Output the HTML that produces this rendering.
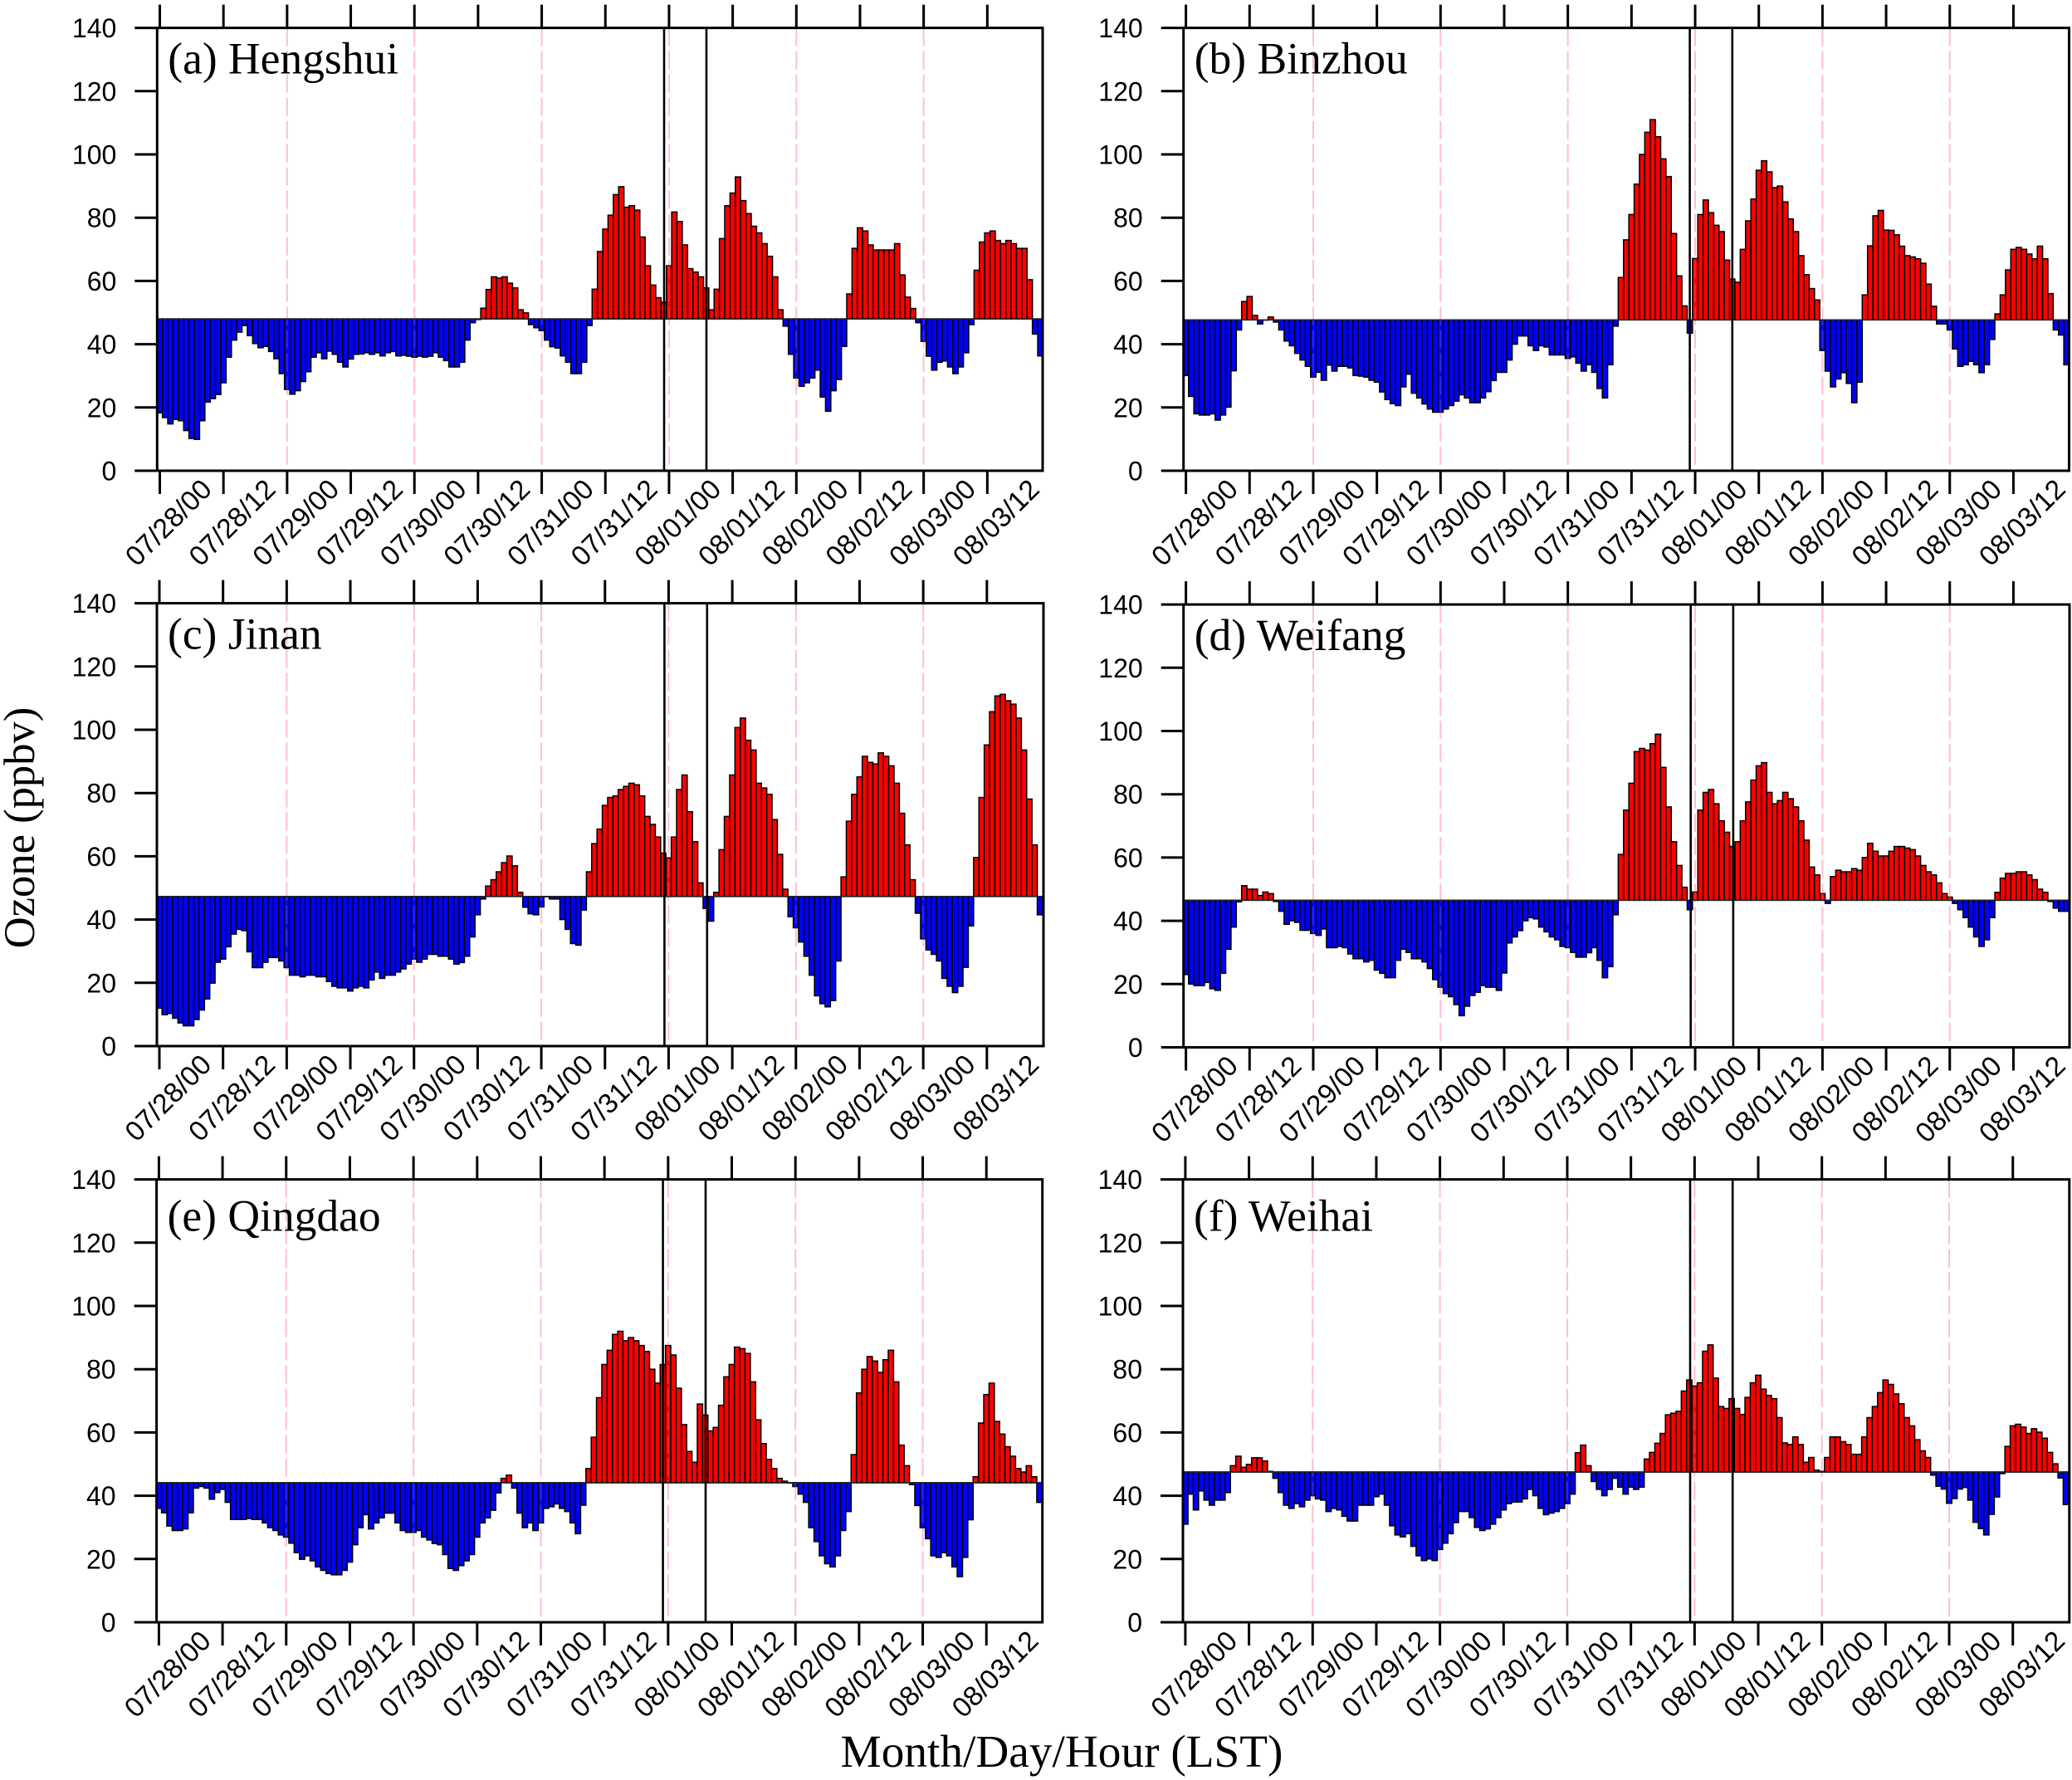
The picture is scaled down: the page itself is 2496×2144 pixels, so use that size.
<!DOCTYPE html>
<html lang="en">
<head>
<meta charset="utf-8">
<title>Ozone time series at six cities</title>
<style>
html,body{margin:0;padding:0;background:#fff;}
svg{display:block;position:absolute;left:0;top:0;}
.tick{font-family:"Liberation Sans",sans-serif;fill:#000;}
.title{font-family:"Liberation Serif",serif;fill:#000;}
</style>
</head>
<body>
<svg id="figure" xmlns="http://www.w3.org/2000/svg" width="2496" height="2144" viewBox="0 0 2496 2144">
<rect x="0" y="0" width="2496" height="2144" fill="#fff"/>
<text class="title" font-size="52.6" text-anchor="middle" transform="translate(41 997) rotate(-90)">Ozone (ppbv)</text>
<text class="title" font-size="55.3" text-anchor="middle" x="1279" y="2128">Month/Day/Hour (LST)</text>
</svg>
<script>
const tickLabels = ["07/28/00","07/28/12","07/29/00","07/29/12","07/30/00","07/30/12","07/31/00","07/31/12","08/01/00","08/01/12","08/02/00","08/02/12","08/03/00","08/03/12"];
const tickHours = [0,12,24,36,48,60,72,84,96,108,120,132,144,156];
const dayHours = [24,48,72,96,120,144];
const eventHours = [95,103];
const yTicks = [0,20,40,60,80,100,120,140];

const hengshuiValues = [18.3,16.8,14.8,16.2,15.8,12.7,10.2,9.9,15.8,21.7,22.8,24.1,27.8,35.9,41.3,43.8,45.9,42.7,40.2,38.9,39.3,37.7,35.4,30.7,25.7,24.2,25.3,28.2,31.3,35.9,37.3,35.4,37.8,36.8,34.3,32.8,35.3,36.8,36.9,37.3,36.8,37.3,36.3,37.3,37.7,36.3,36.5,36.2,35.9,36.2,35.9,36.2,37.3,35.9,34.8,32.8,32.8,34.3,41.3,46.8,47.8,
51.4,57.3,61.3,60.9,61.3,59.3,57.8,50.9,49.9,46.2,45.2,44.3,41.3,39.2,38.8,36.3,34.3,30.7,30.7,34.3,45.9,
57.4,69.3,76.4,80.8,87.3,89.8,83.3,83.8,82.4,73.9,64.8,58.7,54.7,53.3,64.8,81.8,78.8,71.4,63.9,62.8,61.3,57.8,50.9,57.4,73.4,83.8,87.8,92.9,85.4,81.3,77.3,75.2,71.8,67.8,61.3,50.9,45.7,36.8,29.3,26.7,27.8,29.3,31.8,23.3,18.8,25.3,28.8,39.3,55.9,70.3,76.8,75.8,71.4,69.8,69.8,69.8,69.8,71.8,61.9,54.9,51.3,46.8,40.9,36.2,31.8,34.3,34.7,32.8,30.7,32.8,37.3,46.2,63.4,72.3,75.2,75.8,72.8,71.8,72.8,71.8,70.3,70.3,60.4,43.2,36.3];

const binzhouValues = [30.1,23.5,18,17.6,17.6,18,16,17.6,20.1,31.6,44.5,53.5,55.1,49.1,46.4,47.6,48.6,47,44.5,41,39.5,37.1,35,33,29.6,31.1,28.6,33.4,31.5,33,33,32.5,30.1,29.9,29.6,28.6,28,24.9,22.5,21.2,20.6,26.5,30.5,24.5,23,21.1,19.5,18.5,18.5,19.5,20.6,22,24,23,21.5,21.5,23,25,28.5,31.1,31.1,35,40,42.6,42.6,39.5,38,39.5,39.1,36.6,36.6,36.6,35.5,36,34,31.5,33.5,31.1,26,23,33.5,45.7,
61.1,73,81,90.6,100,107,111,105.6,98.6,93,75,61.6,52.1,43.5,67.1,81,85.6,81.6,77.6,75.6,66.6,60.6,59.6,70,79,85.9,95,98,94.5,89.5,90,85,79.6,75.6,68,62,57.6,54,38,31.5,26.5,29,31,27.6,21.5,28,55.6,71.1,80.6,82.3,76.1,76,74.6,71,68,67.6,67,65.6,59,52,46.4,46.4,44.5,38.5,33,33.5,34.6,33.5,31,33.5,41.5,49.6,55.6,63.5,70,70.6,70,68.5,67,71,67,56,44.5,42.9,33.5];

const jinanValues = [12,9.9,10.3,8.8,7.3,6.4,6.4,8.4,11.4,14.9,19.9,26.5,27.5,31.4,35.4,36.9,36.5,29.8,24.8,24.8,26.5,28,28,26.9,24.8,22.4,22.4,21.9,22.4,22.4,21.9,21.9,20.4,18.9,18.4,18.4,17.4,18.4,18.9,18.4,20.9,23.4,21.4,22.4,22.4,23.4,24.4,25.9,27.5,26.5,27.5,29,29,28.4,28.4,27.5,25.9,26.4,28.4,34.5,41.5,46.5,50.6,52.6,55.1,58,60.1,57,48.6,43.9,41.8,41.5,44,47.2,46.5,46.5,40,36.9,32.4,31.9,
43,55.1,64,68.6,76.1,78.6,79.1,81.1,82.1,83.1,82.6,79.1,72.6,70.1,66.1,61,59.5,66.1,81.1,85.7,74.1,64.6,51.6,43.5,39.5,48.6,62.1,72.6,85.7,100.7,103.7,96.7,93.6,83.1,81.6,79.6,71.6,60.6,49.6,40.9,37.4,32.9,28.4,22.4,15.9,13.4,12.4,14.4,26.9,53.5,71.1,79.6,85.1,91.6,89.7,89.2,92.7,91.6,88.6,83.1,73.6,63.6,52.6,42,33.9,30.4,29,26.9,21.4,18.9,16.9,18.9,24.9,38,59.6,78.6,95.2,105.7,110.7,111.2,109.2,108.1,103.7,93.6,78.1,63.6,41.5];

const weifangValues = [23,20,19.5,19.5,20.5,18.5,18,23.4,31,38,46,51.1,50,50,48,49.1,48.6,46.1,43,38.9,40,39.5,37,37,36,35.4,37.4,31.5,31.5,31.9,31.5,29.5,28,28,27,27.5,24.4,23.4,22,22,27.5,31,30,28,28,27,24.9,21.4,19,17,16,13.5,10,13,16.4,17.4,19.5,19,19,18,23.5,33,34.9,36.9,40,41,40.6,38,36.5,34.9,34,31.9,31.5,30,28.5,28.5,29.9,31.5,27.5,22,25.5,41.9,
61,75,83.5,93.5,94.5,94,96,99,88.5,76,65,57.5,50.6,43.5,49.1,75,80.6,81.5,77,71.6,68,63.5,65,71.6,77.6,84.5,89,90,80.6,77,78,80.6,78.6,76,71.6,65.5,57,54.5,48.6,45.5,54,56,55.5,55.5,56.5,56,60,64.5,62,60.5,60.5,62,63.5,63.5,63,62.5,60.5,57.5,55.5,54.5,52,48.6,47.5,45.5,43.5,41,38,34.9,31.9,34,41,49,53.5,55,55,55.5,55.5,54.5,53,50,49,46.1,44,43,43];

const qingdaoValues = [36,34.6,30.4,29,29,29.5,34.6,42.4,42.9,42.4,38.9,41,42,37.9,32.5,32.5,32.5,32.8,32.5,32.5,31.4,29.9,29,27.6,26.9,25,22,19.9,21,19.4,17.5,16.4,15.4,15,15,16.4,19,24.5,29.9,34,29.5,31.4,33,34.5,34.5,31.4,29,28.4,28.4,29,26.9,26,24.9,24.5,21.4,17,16.4,17.9,19.4,21.4,26.9,31.4,33,35.4,40.9,45.5,46.5,42.4,34.5,29.9,31.4,29,31.4,36,36.5,37.4,36,35,31.4,28,
37,48.6,58.5,71,81.5,86,91,92,89,90,89,87.5,85.6,80,75.6,81.5,87.5,84.5,74,62.5,54,50.6,69,65.5,60.5,61.6,68.6,77.6,81.5,87,86.5,85,76,64,56.5,51.5,48.6,45.5,44.6,44,42.9,40.5,37.9,29.9,25.5,21,18.5,17.5,21,29,35,53,72.5,80,84,82.6,79,83,86,76,56,49.5,43.5,36.9,29.9,26.4,21,20.5,22,21,17.5,14.4,20.5,32.4,46,63,72,75.6,63.5,59.5,55.5,52.5,48.6,47.5,49.5,46,37.9];

const weihaiValues = [31,40.5,35.5,41.5,38.6,37,38.6,38.6,41,49.5,52.5,49,49.9,52,52,51,47.7,45.5,41,37,36,37.5,36.5,38.6,40,39,38.6,35,36,35.5,33.5,32,32,37,37,37,39.7,40.5,37,30.5,27.6,27,28,24,21,19.5,20,19.5,23,25,28,31.5,35,35,33.1,30,29,29.5,31,33.1,35.5,37.5,38,38,39,42,40,36,34,34.5,35,36,37.5,40.5,53.6,56,49.5,44.5,42,40,42,45.5,42.7,40.5,42.7,42,42.7,
51.6,53.7,56.6,59.7,65.6,66.1,66.7,73.1,76.6,74.7,75.7,85.7,87.7,77.2,68.2,67.6,70.7,67.6,65.7,71.1,75.7,78.1,73.7,71.7,70.7,64.7,56.7,56.2,58.6,56.2,50.6,52.1,48.1,47.7,52.1,58.6,58.6,57.1,56.2,53.1,53.1,58.6,64.7,68.2,72.6,76.6,75.2,72.2,69.1,64.7,62.1,57.7,54.2,52.1,46.5,43,42.1,37.6,39.1,42.1,42.6,38.6,31.6,29.6,27.6,34.1,39.6,47,55.6,62.1,62.6,61.7,59.7,61.2,60.1,58.2,53.7,50.1,45.6,37.2];

const panelTitles = ["(a) Hengshui","(b) Binzhou","(c) Jinan","(d) Weifang","(e) Qingdao","(f) Weihai"];
const panelThresholds = [48,47.7,47.3,46.5,44.1,47.5];
const panelSeries = [hengshuiValues,binzhouValues,jinanValues,weifangValues,qingdaoValues,weihaiValues];

const NS = "http://www.w3.org/2000/svg";
const figure = document.getElementById("figure");

function svgEl(parent, tag, attrs) {
  const el = document.createElementNS(NS, tag);
  for (const k in attrs) el.setAttribute(k, attrs[k]);
  parent.appendChild(el);
  return el;
}

function layoutFor(index) {
  const boxes = [
    {left:189.3,right:1256,bottom:567,tick0:192.5,hourPx:6.39,titleDy:55,ev:[800,851]},
    {left:1425.7,right:2492.5,bottom:567,tick0:1428.6,hourPx:6.39,titleDy:55,ev:[2035.6,2086.8]},
    {left:189,right:1257,bottom:1260,tick0:192,hourPx:6.39,titleDy:55,ev:[800.4,851.8]},
    {left:1425.7,right:2493,bottom:1261.5,tick0:1428.6,hourPx:6.39,titleDy:55,ev:[2036.7,2087.9]},
    {left:188.6,right:1255.7,bottom:1954,tick0:191.4,hourPx:6.39,titleDy:62,ev:[798.6,850]},
    {left:1425,right:2492.8,bottom:1954,tick0:1427.9,hourPx:6.39,titleDy:62,ev:[2036,2087.2]}
  ];
  return boxes[index];
}

function drawPanel(index) {
  const box = layoutFor(index);
  const values = panelSeries[index];
  const threshold = panelThresholds[index];
  const yPerUnit = 3.81;
  const top = box.bottom - 140 * yPerUnit;
  const xScale = h => box.tick0 + h * box.hourPx;
  const yScale = v => box.bottom - v * yPerUnit;

  const g = svgEl(figure, "g", {});
  
  

  const clipId = "clip" + index;
  const clip = svgEl(svgEl(g, "defs", {}), "clipPath", {id: clipId});
  svgEl(clip, "rect", {x: box.left, y: top, width: box.right - box.left, height: box.bottom - top});

  dayHours.forEach(h => {
    const line = svgEl(g, "line", {x1: xScale(h), x2: xScale(h), y1: top, y2: box.bottom, stroke: "#ffc0cb", "stroke-width": 2, "stroke-dasharray": "22 6"});
    
    
  });

  const bars = svgEl(g, "g", {"clip-path": "url(#" + clipId + ")"});
  values.forEach((v, h) => {
    const yTop = yScale(Math.max(v, threshold));
    const yBot = yScale(Math.min(v, threshold));
    const bar = svgEl(bars, "rect", {
      x: xScale(h) - box.hourPx / 2,
      y: yTop,
      width: box.hourPx,
      height: Math.max(yBot - yTop, 0.2),
      fill: v >= threshold ? "#ff0000" : "#0000ff",
      stroke: "#000",
      "stroke-width": 1.5
    });
    
    
  });

  dayHours.forEach(h => {
    const overlay = svgEl(g, "line", {x1: xScale(h), x2: xScale(h), y1: top, y2: box.bottom, stroke: "#ffc0cb", "stroke-width": 2, "stroke-dasharray": "22 6", opacity: 0.18});
    
    
  });

  const base = svgEl(g, "line", {x1: box.left, x2: box.right, y1: yScale(threshold), y2: yScale(threshold), stroke: "#222", "stroke-width": 1.6});
  
  

  eventHours.forEach((h, i) => {
    const px = box.ev[i];
    const ev = svgEl(g, "line", {x1: px, x2: px, y1: top, y2: box.bottom, stroke: "#000", "stroke-width": 2.6});
    
    
  });

  const frame = svgEl(g, "rect", {x: box.left, y: top, width: box.right - box.left, height: box.bottom - top, fill: "none", stroke: "#000", "stroke-width": 3});
  
  

  yTicks.forEach(t => {
    const y = yScale(t);
    const mark = svgEl(g, "line", {x1: box.left - 27, x2: box.left, y1: y, y2: y, stroke: "#000", "stroke-width": 3});
    
    
    const label = svgEl(g, "text", {x: box.left - 49, y: y + 11.5, "text-anchor": "end", class: "tick", "font-size": 32});
    
    
    label.textContent = t;
  });

  tickHours.forEach((h, i) => {
    const x = xScale(h);
    const upper = svgEl(g, "line", {x1: x, x2: x, y1: top - 28, y2: top, stroke: "#000", "stroke-width": 3});
    
    
    const lower = svgEl(g, "line", {x1: x, x2: x, y1: box.bottom, y2: box.bottom + 28, stroke: "#000", "stroke-width": 3});
    
    
    const cx = x + 10, cy = box.bottom + 62;
    const label = svgEl(g, "text", {x: cx, y: cy + 12, "text-anchor": "middle", class: "tick", "font-size": 33.5, transform: "rotate(-45 " + cx + " " + cy + ")"});
    
    
    label.textContent = tickLabels[i];
  });

  const title = svgEl(g, "text", {x: box.left + 13, y: top + box.titleDy, class: "title", "font-size": 53.5});
  
  
  title.textContent = panelTitles[index];
}

panelSeries.forEach((_, i) => drawPanel(i));
</script>
</body>
</html>
